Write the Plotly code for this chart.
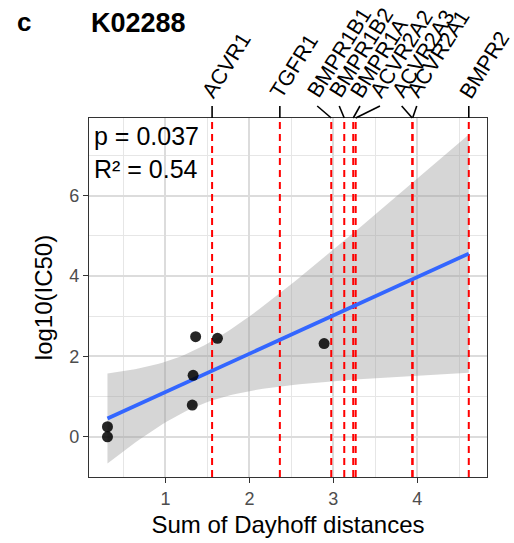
import numpy as np
import plotly.graph_objects as go

# ---------------- data ----------------
pt_x = [0.31, 0.31, 1.36, 1.62, 1.33, 1.32, 2.89]
pt_y = [0.25, 0.00, 2.49, 2.45, 1.53, 0.79, 2.32]

gene_names = ["ACVR1", "TGFR1", "BMPR1B1", "BMPR1B2", "BMPR1A",
              "ACVR2A2", "ACVR2A3", "ACVR2A1", "BMPR2"]
gene_x = [1.556, 2.363, 2.975, 3.130, 3.237, 3.266, 3.940, 3.944, 4.613]
# repelled label positions (x of the label end of each leader line)
label_x = [1.556, 2.363, 2.808, 3.070, 3.317, 3.555, 3.814, 3.993, 4.613]

stat_text = "p = 0.037<br>R² = 0.54"
panel_tag = "c"
title_text = "K02288"
x_title = "Sum of Dayhoff distances"
y_title = "log10(IC50)"
x_ticks = [1, 2, 3, 4]
y_ticks = [0, 2, 4, 6]

# ---------------- layout constants ----------------
W, H = 514, 543
ML, MR, MT, MB = 89, 27, 118, 66
PH = H - MT - MB
XR = [0.09, 4.83]
YR = [-1.0, 7.93]
FONT = "Liberation Sans, Arial, sans-serif"
T_DF5 = 2.570582  # 97.5% t quantile, df = 5

# ---------------- linear fit with 95% CI (geom_smooth(method='lm', fullrange)) ----------------
xa = np.array(pt_x)
ya = np.array(pt_y)
n = len(xa)
slope, intercept = np.polyfit(xa, ya, 1)
resid = ya - (slope * xa + intercept)
s = np.sqrt(np.sum(resid ** 2) / (n - 2))
sxx = np.sum((xa - xa.mean()) ** 2)
xf = np.linspace(min(pt_x), max(gene_x), 80)
yf = slope * xf + intercept
se = s * np.sqrt(1 / n + (xf - xa.mean()) ** 2 / sxx)
up = yf + T_DF5 * se
lo = yf - T_DF5 * se

fig = go.Figure()
fig.add_trace(go.Scatter(
    x=np.concatenate([xf, xf[::-1]]), y=np.concatenate([up, lo[::-1]]),
    fill="toself", fillcolor="rgba(153,153,153,0.4)", line=dict(width=0),
    mode="lines", hoverinfo="skip", showlegend=False))

for gx in gene_x:
    fig.add_trace(go.Scatter(
        x=[gx, gx], y=YR, mode="lines",
        line=dict(color="#FF0000", width=2, dash="7px,5px"),
        showlegend=False, hoverinfo="skip"))

fig.add_trace(go.Scatter(x=xf, y=yf, mode="lines",
                         line=dict(color="#3366FF", width=3.8),
                         showlegend=False))
fig.add_trace(go.Scatter(x=pt_x, y=pt_y, mode="markers",
                         marker=dict(color="rgba(0,0,0,0.85)", size=11),
                         showlegend=False))

# leader lines and rotated gene labels above the panel
lead = 12 / PH
for gx, lx, name in zip(gene_x, label_x, gene_names):
    fig.add_shape(type="line", xref="x", yref="paper",
                  x0=gx, y0=1, x1=lx, y1=1 + lead,
                  line=dict(color="black", width=1.6))
    fig.add_annotation(x=lx, y=1 + lead, xref="x", yref="paper",
                       text=name, textangle=-58, showarrow=False,
                       xanchor="left", yanchor="bottom",
                       xshift=-17, yshift=1,
                       font=dict(family=FONT, size=21.5, color="black"))

fig.add_annotation(x=0, y=1, xref="paper", yref="paper", text=stat_text,
                   showarrow=False, xanchor="left", yanchor="top", align="left",
                   xshift=3, yshift=-2,
                   font=dict(family=FONT, size=25, color="black"))

fig.add_annotation(x=(15 - ML) / (W - ML - MR), y=1 + (118 - 22) / PH,
                   xref="paper", yref="paper", text="<b>%s</b>" % panel_tag,
                   showarrow=False, xanchor="left", yanchor="middle",
                   font=dict(family=FONT, size=26, color="black"))
fig.add_annotation(x=(89 - ML) / (W - ML - MR), y=1 + (118 - 23.3) / PH,
                   xref="paper", yref="paper", text="<b>%s</b>" % title_text,
                   showarrow=False, xanchor="left", yanchor="middle",
                   font=dict(family=FONT, size=27, color="black"))

axis_common = dict(
    showline=True, mirror=True, linecolor="#333333", linewidth=1.4,
    ticks="outside", ticklen=5, tickwidth=1.3, tickcolor="#333333",
    tickfont=dict(family=FONT, size=18, color="#4D4D4D"),
    showgrid=True, gridcolor="#DCDCDC", gridwidth=1.8, zeroline=False,
)
fig.update_xaxes(range=XR, tickvals=x_ticks, dtick=1, tick0=0,
                 minor=dict(dtick=0.5, tick0=0, showgrid=True,
                            gridcolor="#E6E6E6", gridwidth=1, ticks=""),
                 title=dict(text=x_title, standoff=8,
                            font=dict(family=FONT, size=24, color="black")),
                 **axis_common)
fig.update_yaxes(range=YR, tickvals=y_ticks, dtick=2, tick0=0,
                 minor=dict(dtick=1, tick0=0, showgrid=True,
                            gridcolor="#E6E6E6", gridwidth=1, ticks=""),
                 title=dict(text=y_title, standoff=9,
                            font=dict(family=FONT, size=24, color="black")),
                 **axis_common)

fig.update_layout(width=W, height=H,
                  margin=dict(l=ML, r=MR, t=MT, b=MB, autoexpand=False),
                  plot_bgcolor="white", paper_bgcolor="white",
                  font=dict(family=FONT), showlegend=False)

fig.write_html("out.html")
